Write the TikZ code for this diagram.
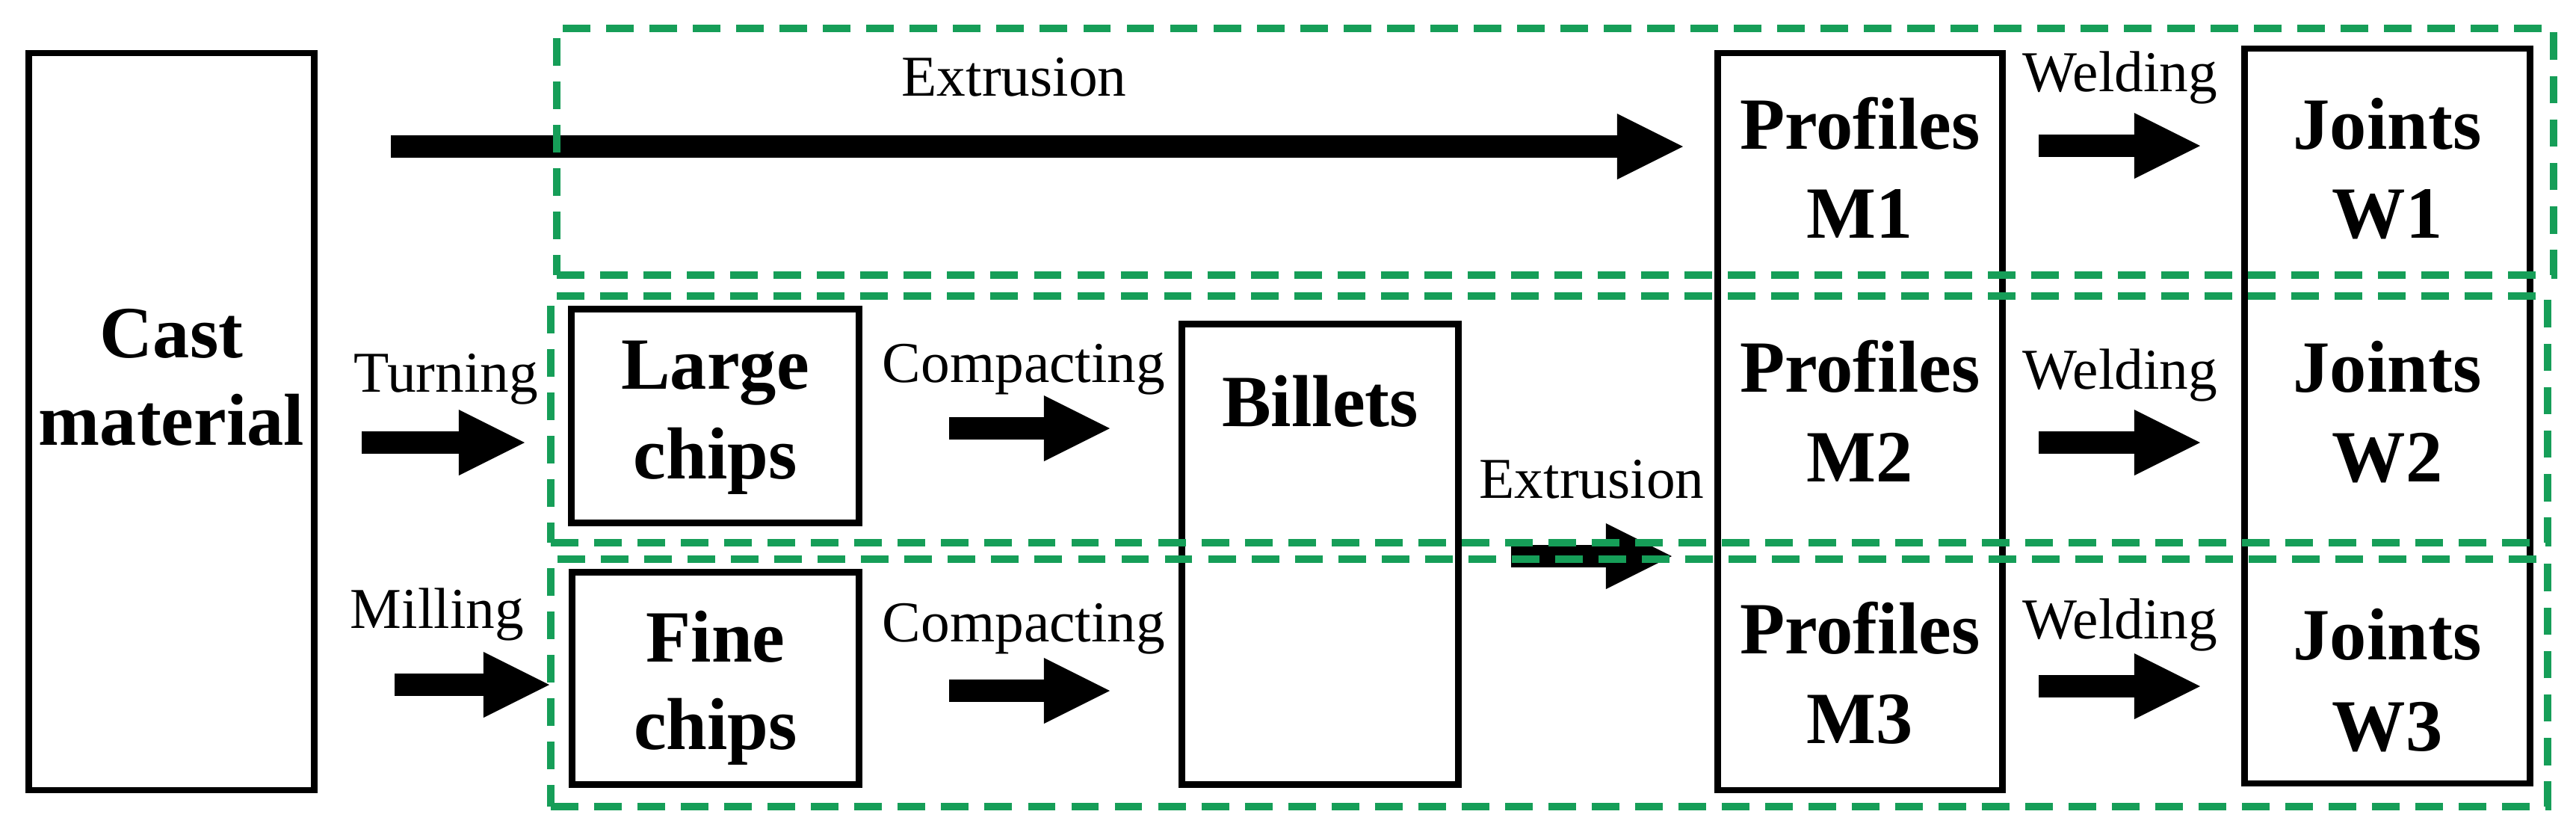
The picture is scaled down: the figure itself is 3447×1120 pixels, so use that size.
\documentclass[tikz,border=0pt]{standalone}
\usepackage{fontspec}
\setmainfont{Liberation Serif}
\usetikzlibrary{arrows.meta}
\definecolor{dgreen}{RGB}{22,158,88}
\begin{document}
\begin{tikzpicture}[x=0.01cm,y=-0.01cm,
  box/.style={draw,line width=2.4pt,inner sep=0pt,outer sep=0pt},
  grp/.style={draw=dgreen,line width=2.7pt,dash pattern=on 10.5pt off 6pt,inner sep=0pt,outer sep=0pt,minimum width=26.7cm},
  lbl/.style={font=\fontsize{22}{26}\selectfont,anchor=base,inner sep=0pt},
  tb/.style={font=\fontsize{28}{34}\selectfont\bfseries,anchor=base,inner sep=0pt},
  bigarrow/.style={line width=0.3cm,-{Triangle[length=0.88cm,width=0.88cm,line width=0pt]}}]
\useasboundingbox (0,0) rectangle (3447,1120);

% boxes
\node[box,minimum width=3.82cm,minimum height=9.85cm] (cast) at (229.5,564) {};
\node[box,minimum width=3.85cm,minimum height=2.86cm] (large) at (957,556.5) {};
\node[box,minimum width=3.84cm,minimum height=2.84cm] (fine) at (957.5,907.5) {};
\node[box,minimum width=3.70cm,minimum height=6.16cm] (billets) at (1766.5,741.5) {};
\node[box,minimum width=3.81cm,minimum height=9.85cm] (profiles) at (2489,564) {};
\node[box,minimum width=3.82cm,minimum height=9.82cm] (joints) at (3194.5,556.5) {};

% box texts
\node[tb] (castA) at (229.5,478) {Cast};
\node[tb] (castB) at (229.5,595) {material};
\node[tb] (largeA) at (957,520) {Large};
\node[tb] (largeB) at (957,640) {chips};
\node[tb] (fineA) at (957.5,885) {Fine};
\node[tb] (fineB) at (957.5,1002) {chips};
\node[tb] (billetsA) at (1766.5,570) {Billets};
\node[tb] (p1A) at (2489,199) {Profiles};
\node[tb] (p1B) at (2489,318) {M1};
\node[tb] (p2A) at (2489,524) {Profiles};
\node[tb] (p2B) at (2489,644) {M2};
\node[tb] (p3A) at (2489,874) {Profiles};
\node[tb] (p3B) at (2489,994) {M3};
\node[tb] (j1A) at (3194.5,199) {Joints};
\node[tb] (j1B) at (3194.5,318) {W1};
\node[tb] (j2A) at (3194.5,524) {Joints};
\node[tb] (j2B) at (3194.5,644) {W2};
\node[tb] (j3A) at (3194.5,882) {Joints};
\node[tb] (j3B) at (3194.5,1004) {W3};

% arrow end points
\coordinate (e1s) at (523,196);  \coordinate (e1t) at (2252,196);
\coordinate (tus) at (484,592);  \coordinate (tut) at (702,592);
\coordinate (mis) at (528,916);  \coordinate (mit) at (735,916);
\coordinate (c1s) at (1270,573); \coordinate (c1t) at (1485,573);
\coordinate (c2s) at (1270,924); \coordinate (c2t) at (1485,924);
\coordinate (e2s) at (2022,744); \coordinate (e2t) at (2237,744);
\coordinate (w1s) at (2728,195); \coordinate (w1t) at (2944,195);
\coordinate (w2s) at (2728,592); \coordinate (w2t) at (2944,592);
\coordinate (w3s) at (2728,918); \coordinate (w3t) at (2944,918);

\draw[bigarrow] (e1s) -- (e1t);
\draw[bigarrow] (tus) -- (tut);
\draw[bigarrow] (mis) -- (mit);
\draw[bigarrow] (c1s) -- (c1t);
\draw[bigarrow] (c2s) -- (c2t);
\draw[bigarrow] (e2s) -- (e2t);
\draw[bigarrow] (w1s) -- (w1t);
\draw[bigarrow] (w2s) -- (w2t);
\draw[bigarrow] (w3s) -- (w3t);

% arrow labels
\node[lbl] (lext1) at (1357,128) {Extrusion};
\node[lbl] (lturn) at (597,524) {Turning};
\node[lbl] (lmill) at (585,840) {Milling};
\node[lbl] (lcomp1) at (1370,511) {Compacting};
\node[lbl] (lcomp2) at (1370,858) {Compacting};
\node[lbl] (lext2) at (2130,666) {Extrusion};
\node[lbl] (lw1) at (2837,122) {Welding};
\node[lbl] (lw2) at (2837,520) {Welding};
\node[lbl] (lw3) at (2837,854) {Welding};

% green dashed groups
\node[grp,minimum height=3.30cm] (g1) at (2081,203) {};
\node[grp,minimum height=3.30cm] (g2) at (2073,561) {};
\node[grp,minimum height=3.31cm] (g3) at (2073,913.5) {};
\end{tikzpicture}
\end{document}
